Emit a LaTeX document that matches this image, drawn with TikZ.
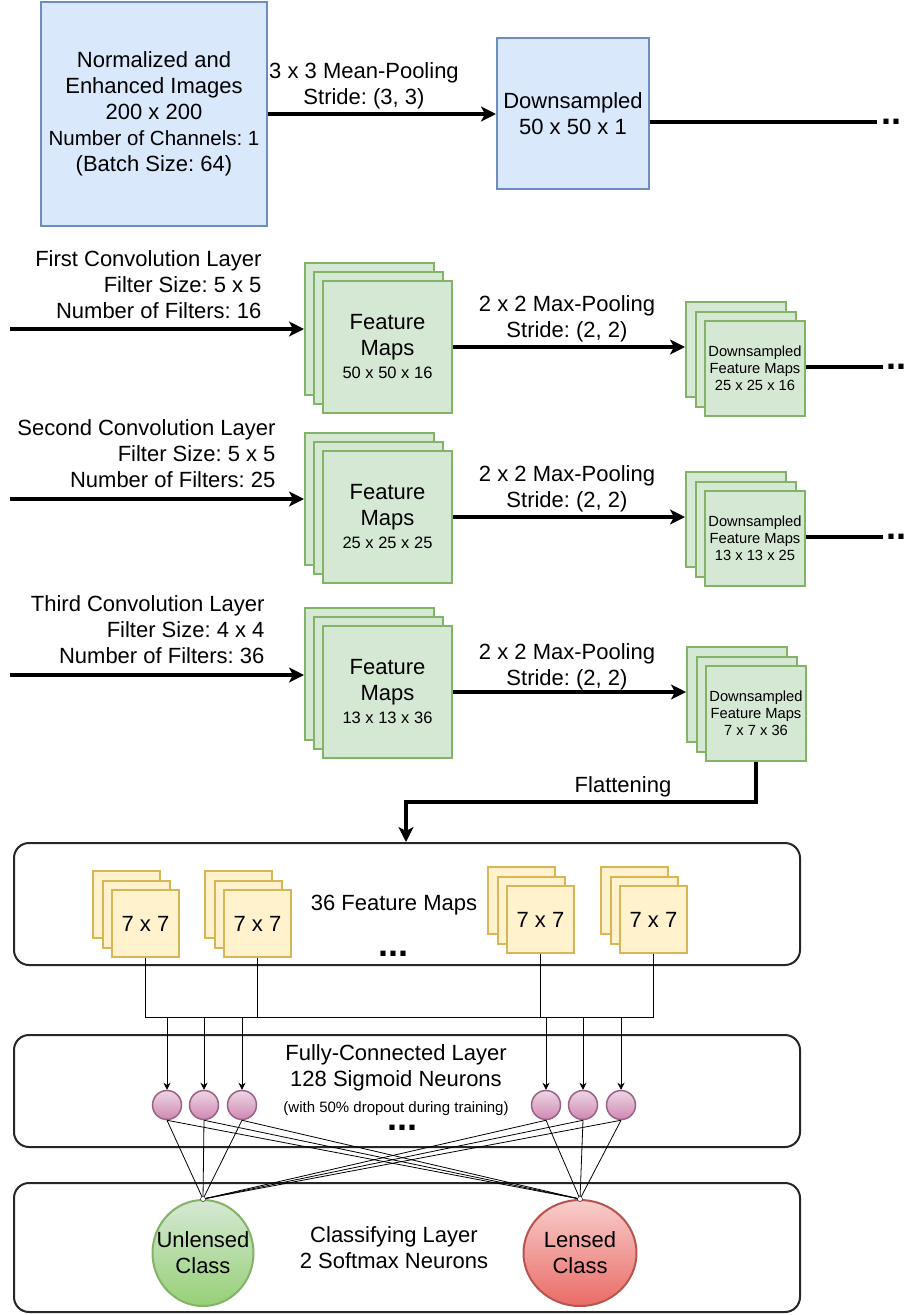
\documentclass[tikz,border=0pt]{standalone}
\usepackage{fontspec}
\setmainfont{Liberation Sans}
\usepackage{tikz}
\usetikzlibrary{arrows.meta, positioning, shapes.geometric, calc}
\frenchspacing
\definecolor{blufill}{HTML}{DAE8FC}
\definecolor{bluline}{HTML}{6C8EBF}
\definecolor{grnfill}{HTML}{D5E8D4}
\definecolor{grnline}{HTML}{82B366}
\definecolor{grnbot}{HTML}{97D077}
\definecolor{ylwfill}{HTML}{FFF2CC}
\definecolor{ylwline}{HTML}{D6B656}
\definecolor{pnktop}{HTML}{EDD6E4}
\definecolor{pnkbot}{HTML}{CF88B2}
\definecolor{pnkline}{HTML}{996185}
\definecolor{redtop}{HTML}{F8CECC}
\definecolor{redbot}{HTML}{EA6B66}
\definecolor{redline}{HTML}{B85450}

\begin{document}
\begin{tikzpicture}[
    x=1pt, y=-1pt,
    font=\fontsize{22}{26}\selectfont,
    inbox/.style={
        rectangle, draw=bluline, line width=2pt,
        fill=blufill, inner sep=0pt, align=center
    },
    fmap/.style={
        rectangle, draw=grnline, line width=2pt, fill=grnfill,
        minimum width=129pt, minimum height=132pt,
        inner sep=0pt, align=center
    },
    dmap/.style={
        rectangle, draw=grnline, line width=2pt, fill=grnfill,
        minimum width=100pt, minimum height=95pt,
        inner sep=0pt, align=center,
        font=\fontsize{14.7}{17}\selectfont
    },
    tile/.style={rectangle, draw=ylwline, line width=2pt, fill=ylwfill, minimum size=67pt, inner sep=0pt},
    layer/.style={rectangle, rounded corners=15pt, draw=black!85, line width=2pt, minimum width=786pt, inner sep=0pt},
    neuron/.style={circle, draw=pnkline, line width=1.5pt, top color=pnktop, bottom color=pnkbot, minimum size=29pt, inner sep=0pt},
    cls/.style={ellipse, line width=2pt, minimum height=106pt, inner sep=0pt, align=center},
    lbl/.style={align=center},
    dots/.style={font=\fontsize{36}{36}\selectfont\bfseries, inner sep=0pt},
    arr/.style={-{Stealth[length=15pt, width=15pt, inset=4pt]}, line width=4pt},
    tarr/.style={-{Stealth[length=7pt, width=7pt]}, line width=0.8pt},
    link/.style={line width=0.8pt}
]
\useasboundingbox (0,0) rectangle (905,1315);

% Input images
\node[inbox, minimum width=226pt, minimum height=224pt] (img) at (154,114) {Normalized and\\Enhanced Images\\200 x 200\\{\fontsize{20.5}{26}\selectfont Number of Channels: 1}\\(Batch Size: 64)};
\node[inbox, minimum width=152pt, minimum height=151pt] (down) at (573,113.5) {Downsampled\\50 x 50 x 1};
\draw[arr] (img.east) -- (img.east -| down.west);
\node[lbl] (meanlbl) at (364,86) {3 x 3 Mean-Pooling\\Stride: (3, 3)};
\coordinate (end0) at (877,122);
\draw[line width=4pt] (down.east |- end0) -- (end0);
\node[dots, anchor=west] (dots0) at (881,122) {..};

% First convolution layer
\node[lbl, align=right, anchor=east] (c1lbl) at (265,284.5) {First Convolution Layer\\Filter Size: 5 x 5\\Number of Filters: 16};
\coordinate (c1in) at (10,329);
\node[fmap] (fm1a) at (369.5,329) {};
\node[fmap] (fm1b) at ([shift={(9,9)}]fm1a) {};
\node[fmap] (fm1) at ([shift={(9,9)}]fm1b) {Feature\\Maps\\[-3pt]{\fontsize{16.5}{20}\selectfont 50 x 50 x 16}};
\draw[arr] (c1in) -- (fm1a.west);
\node[dmap] (ds1a) at (736,349.5) {};
\node[dmap] (ds1b) at ([shift={(9.5,9.5)}]ds1a) {};
\node[dmap] (ds1) at ([shift={(9.5,9.5)}]ds1b) {Downsampled\\Feature Maps\\25 x 25 x 16};
\draw[arr] (fm1.east) -- (fm1.east -| ds1a.west);
\node[lbl] (mp1lbl) at (567,318.5) {2 x 2 Max-Pooling\\Stride: (2, 2)};
\coordinate (end1) at (883,367);
\draw[line width=4pt] (ds1.east |- end1) -- (end1);
\node[dots, anchor=west] (dots1) at (886,367) {..};

% Second convolution layer
\node[lbl, align=right, anchor=east] (c2lbl) at (279,454) {Second Convolution Layer\\Filter Size: 5 x 5\\Number of Filters: 25};
\coordinate (c2in) at (10,499);
\node[fmap] (fm2a) at (369.5,499) {};
\node[fmap] (fm2b) at ([shift={(9,9)}]fm2a) {};
\node[fmap] (fm2) at ([shift={(9,9)}]fm2b) {Feature\\Maps\\[-3pt]{\fontsize{16.5}{20}\selectfont 25 x 25 x 25}};
\draw[arr] (c2in) -- (fm2a.west);
\node[dmap] (ds2a) at (736,519.5) {};
\node[dmap] (ds2b) at ([shift={(9.5,9.5)}]ds2a) {};
\node[dmap] (ds2) at ([shift={(9.5,9.5)}]ds2b) {Downsampled\\Feature Maps\\13 x 13 x 25};
\draw[arr] (fm2.east) -- (fm2.east -| ds2a.west);
\node[lbl] (mp2lbl) at (567,489) {2 x 2 Max-Pooling\\Stride: (2, 2)};
\coordinate (end2) at (883,537);
\draw[line width=4pt] (ds2.east |- end2) -- (end2);
\node[dots, anchor=west] (dots2) at (886,537) {..};

% Third convolution layer
\node[lbl, align=right, anchor=east] (c3lbl) at (268,629.5) {Third Convolution Layer\\Filter Size: 4 x 4\\Number of Filters: 36};
\coordinate (c3in) at (10,675);
\node[fmap] (fm3a) at (369.5,674) {};
\node[fmap] (fm3b) at ([shift={(9,9)}]fm3a) {};
\node[fmap] (fm3) at ([shift={(9,9)}]fm3b) {Feature\\Maps\\[-3pt]{\fontsize{16.5}{20}\selectfont 13 x 13 x 36}};
\draw[arr] (c3in) -- (c3in -| fm3a.west);
\node[dmap] (ds3a) at (737,694.5) {};
\node[dmap] (ds3b) at ([shift={(9.5,9.5)}]ds3a) {};
\node[dmap] (ds3) at ([shift={(9.5,9.5)}]ds3b) {Downsampled\\Feature Maps\\7 x 7 x 36};
\draw[arr] (fm3.east) -- (fm3.east -| ds3a.west);
\node[lbl] (mp3lbl) at (567,666.5) {2 x 2 Max-Pooling\\Stride: (2, 2)};

% Flattening
\node[layer, minimum height=122pt] (fmbox) at (407,904) {};
\coordinate (flat) at (406,802);
\draw[arr] (ds3.south) |- (flat) -- (flat |- fmbox.north);
\node (fllbl) at (623,787) {Flattening};

% 36 feature maps
\foreach \n/\x/\y in {1/126.5/904.5, 2/238.5/904.5, 3/521.5/900.5, 4/634.5/900.5} {
    \node[tile] (ta\n) at (\x,\y) {};
    \node[tile] (tb\n) at ([shift={(9.5,9.5)}]ta\n) {};
    \node[tile] (t\n) at ([shift={(9.5,9.5)}]tb\n) {7 x 7};
}
\node (fmtxt) at (394,905) {36 Feature Maps};
\node[dots] (fmdots) at (393,954) {...};

% Fully-connected layer
\node[layer, minimum height=112pt] (fcbox) at (407,1091) {};
\coordinate (bus) at (400,1017);
\draw[link] (t1.south) |- (t4.south |- bus) -- (t4.south);
\draw[link] (t2.south) -- (t2.south |- bus);
\draw[link] (t3.south) -- (t3.south |- bus);
\foreach \n/\x in {1/167, 2/204, 3/242, 4/546, 5/583, 6/621} {
    \node[neuron] (n\n) at (\x,1105) {};
    \draw[tarr] (n\n |- bus) -- (n\n.north);
}
\node[lbl] (fctxt) at (396,1080) {Fully-Connected Layer\\128 Sigmoid Neurons\\{\fontsize{15}{18}\selectfont (with 50\% dropout during training)}};
\node[dots] (fcdots) at (402,1128) {...};

% Classifying layer
\node[layer, minimum height=129pt] (clbox) at (407,1247.5) {};
\node[cls, draw=grnline, top color=grnfill, bottom color=grnbot, minimum width=101pt] (unl) at (203,1253) {\makebox[0pt]{Unlensed}\\\makebox[0pt]{Class}};
\node[cls, draw=redline, top color=redtop, bottom color=redbot, minimum width=113pt] (lens) at (580,1253) {\makebox[0pt]{Lensed}\\\makebox[0pt]{Class}};
\node[lbl] (cltxt) at (394,1248) {Classifying Layer\\2 Softmax Neurons};
\foreach \n in {1,...,6} {
    \draw[link] (n\n.south) -- (unl.north);
    \draw[link] (n\n.south) -- (lens.north);
}
\node[circle, draw, fill=white, inner sep=0pt, minimum size=5pt] (ujoin) at (unl.north) {};
\node[circle, draw, fill=white, inner sep=0pt, minimum size=5pt] (ljoin) at (lens.north) {};

\end{tikzpicture}
\end{document}
